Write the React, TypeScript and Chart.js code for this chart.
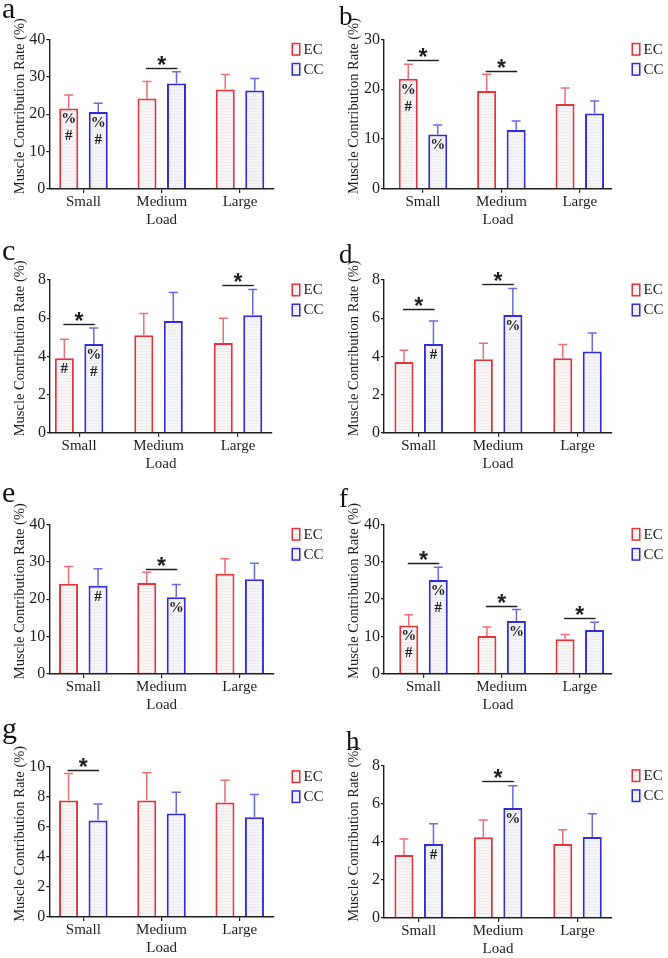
import React, { useEffect, useRef } from 'react';
import { Chart, registerables } from 'chart.js';

Chart.register(...registerables);

// ---- data ----
const LOADS = ['Small', 'Medium', 'Large'];
const SERIES = ['EC', 'CC'];
const Y_TITLE = 'Muscle Contribution Rate (%)';
const X_TITLE = 'Load';

// a
const A_EC = [21.5, 24.2, 26.6];
const A_EC_SD = [3.6, 4.5, 4.0];
const A_CC = [20.6, 28.2, 26.3];
const A_CC_SD = [2.3, 3.1, 3.2];
const A_TICKS = [0, 10, 20, 30, 40];
const A_SIG = [[1, 32.2]];
const A_MARKS = [[0, 0, '%#'], [1, 0, '%#']];

// b
const B_EC = [22.1, 19.6, 17.0];
const B_EC_SD = [2.9, 3.4, 3.2];
const B_CC = [10.9, 11.8, 15.1];
const B_CC_SD = [1.9, 1.8, 2.5];
const B_TICKS = [0, 10, 20, 30];
const B_SIG = [[0, 25.8], [1, 23.7]];
const B_MARKS = [[0, 0, '%#'], [1, 0, '%']];

// c
const C_EC = [3.9, 5.1, 4.7];
const C_EC_SD = [1.0, 1.15, 1.3];
const C_CC = [4.65, 5.85, 6.15];
const C_CC_SD = [0.83, 1.5, 1.35];
const C_TICKS = [0, 2, 4, 6, 8];
const C_SIG = [[0, 5.7], [2, 7.75]];
const C_MARKS = [[0, 0, '#'], [1, 0, '%#']];

// d
const D_EC = [3.7, 3.85, 3.9];
const D_EC_SD = [0.62, 0.83, 0.72];
const D_CC = [4.65, 6.17, 4.25];
const D_CC_SD = [1.2, 1.38, 0.97];
const D_TICKS = [0, 2, 4, 6, 8];
const D_SIG = [[0, 6.48], [1, 7.77]];
const D_MARKS = [[1, 0, '#'], [1, 1, '%']];

// e
const E_EC = [24.1, 24.3, 26.8];
const E_EC_SD = [4.6, 2.9, 4.0];
const E_CC = [23.6, 20.5, 25.3];
const E_CC_SD = [4.5, 3.4, 4.3];
const E_TICKS = [0, 10, 20, 30, 40];
const E_SIG = [[1, 28.1]];
const E_MARKS = [[1, 0, '#'], [1, 1, '%']];

// f
const F_EC = [12.9, 10.1, 9.2];
const F_EC_SD = [2.9, 2.4, 1.3];
const F_CC = [25.1, 14.1, 11.7];
const F_CC_SD = [3.4, 3.1, 2.1];
const F_TICKS = [0, 10, 20, 30, 40];
const F_SIG = [[0, 29.7], [1, 18.1], [2, 14.8]];
const F_MARKS = [[0, 0, '%#'], [1, 0, '%#'], [1, 1, '%']];

// g
const G_EC = [7.75, 7.75, 7.62];
const G_EC_SD = [1.8, 1.85, 1.48];
const G_CC = [6.42, 6.88, 6.63];
const G_CC_SD = [1.1, 1.42, 1.52];
const G_TICKS = [0, 2, 4, 6, 8, 10];
const G_SIG = [[0, 9.8]];
const G_MARKS: any[] = [];

// h
const H_EC = [3.31, 4.24, 3.89];
const H_EC_SD = [0.84, 0.91, 0.74];
const H_CC = [3.89, 5.78, 4.25];
const H_CC_SD = [1.06, 1.17, 1.23];
const H_TICKS = [0, 2, 4, 6, 8];
const H_SIG = [[1, 7.18]];
const H_MARKS = [[1, 0, '#'], [1, 1, '%']];

const PANELS = [
  { letter: 'a', ec: A_EC, ecSd: A_EC_SD, cc: A_CC, ccSd: A_CC_SD, ticks: A_TICKS, sig: A_SIG, marks: A_MARKS },
  { letter: 'b', ec: B_EC, ecSd: B_EC_SD, cc: B_CC, ccSd: B_CC_SD, ticks: B_TICKS, sig: B_SIG, marks: B_MARKS },
  { letter: 'c', ec: C_EC, ecSd: C_EC_SD, cc: C_CC, ccSd: C_CC_SD, ticks: C_TICKS, sig: C_SIG, marks: C_MARKS },
  { letter: 'd', ec: D_EC, ecSd: D_EC_SD, cc: D_CC, ccSd: D_CC_SD, ticks: D_TICKS, sig: D_SIG, marks: D_MARKS },
  { letter: 'e', ec: E_EC, ecSd: E_EC_SD, cc: E_CC, ccSd: E_CC_SD, ticks: E_TICKS, sig: E_SIG, marks: E_MARKS },
  { letter: 'f', ec: F_EC, ecSd: F_EC_SD, cc: F_CC, ccSd: F_CC_SD, ticks: F_TICKS, sig: F_SIG, marks: F_MARKS },
  { letter: 'g', ec: G_EC, ecSd: G_EC_SD, cc: G_CC, ccSd: G_CC_SD, ticks: G_TICKS, sig: G_SIG, marks: G_MARKS },
  { letter: 'h', ec: H_EC, ecSd: H_EC_SD, cc: H_CC, ccSd: H_CC_SD, ticks: H_TICKS, sig: H_SIG, marks: H_MARKS },
];

// ---- layout (pixels inside each panel canvas) ----
const ROW_TOP = [0, 240, 480, 718];
const ROW_H = [240, 240, 238, 240];
const BOXES = [
  { L: 49.3, R: 274, T: 39.3, B: 189, first: 83.5, last: 240, lx: 2, ly: 18, ls: 30 },
  { L: 50, R: 278, T: 39.3, B: 188.7, first: 89, last: 245.8, lx: 5, ly: 25, ls: 27 },
  { L: 50, R: 272, T: 40, B: 192.7, first: 79.1, last: 238, lx: 2, ly: 20, ls: 30 },
  { L: 50, R: 278, T: 40, B: 192.7, first: 84.7, last: 243.5, lx: 5, ly: 23, ls: 27 },
  { L: 49.3, R: 274, T: 44.3, B: 194, first: 83.3, last: 239.7, lx: 2, ly: 22, ls: 30 },
  { L: 50, R: 278, T: 44.3, B: 193.7, first: 89.5, last: 245.8, lx: 5, ly: 27, ls: 27 },
  { L: 49.3, R: 274, T: 48.7, B: 199, first: 83.3, last: 239.7, lx: 2, ly: 20, ls: 30 },
  { L: 50, R: 278, T: 47.7, B: 200, first: 84.7, last: 243.5, lx: 12, ly: 32, ls: 27 },
];

const SERIF = '"Liberation Serif", "Times New Roman", serif';
const RED = '#e2343b';
const BLUE = '#2f2fd0';
const RED_ERR = '#ec6f73';
const BLUE_ERR = '#6a6ae0';
const INK = '#1e1e1e';

function stripes(ctx: CanvasRenderingContext2D, base: string, line: string) {
  const c = document.createElement('canvas');
  c.width = 4;
  c.height = 3;
  const g = c.getContext('2d')!;
  g.fillStyle = base;
  g.fillRect(0, 0, 4, 3);
  g.fillStyle = line;
  g.fillRect(0, 0, 4, 1);
  return ctx.createPattern(c, 'repeat')!;
}

function Panel({ index }: { index: number }) {
  const ref = useRef<HTMLCanvasElement>(null);
  const p = PANELS[index];
  const box = BOXES[index];
  const col = index % 2;
  const row = Math.floor(index / 2);
  const W = 334;
  const H = ROW_H[row];

  useEffect(() => {
    const canvas = ref.current!;
    const ctx = canvas.getContext('2d')!;
    const ecFill = stripes(ctx, '#f7f5f5', '#eeeaea');
    const ccFill = stripes(ctx, '#f5f5f7', '#ebebef');
    const spacing = (box.last - box.first) / 2;
    const xMin = -(box.first - box.L) / spacing;
    const xMax = 2 + (box.R - box.last) / spacing;
    const step = p.ticks[1] - p.ticks[0];
    const legendX = col === 0 ? 291.5 : 297.5;
    const sds = [p.ecSd, p.ccSd];
    const means = [p.ec, p.cc];
    const errColors = [RED_ERR, BLUE_ERR];
    const fills = [ecFill, ccFill];
    const strokes = [RED, BLUE];

    const decor = {
      id: 'decor',
      afterDatasetsDraw(chart: any) {
        const c = chart.ctx;
        const ys = chart.scales.y;
        c.save();
        // upper error bars
        for (let s = 0; s < 2; s++) {
          const meta = chart.getDatasetMeta(s);
          meta.data.forEach((el: any, i: number) => {
            const top = ys.getPixelForValue(means[s][i] + sds[s][i]);
            c.strokeStyle = errColors[s];
            c.lineWidth = 1.5;
            c.beginPath();
            c.moveTo(el.x, el.y);
            c.lineTo(el.x, top);
            c.moveTo(el.x - 4.5, top);
            c.lineTo(el.x + 4.5, top);
            c.stroke();
          });
        }
        // markers inside bars
        c.fillStyle = INK;
        c.font = `bold 15px ${SERIF}`;
        c.textAlign = 'center';
        c.textBaseline = 'middle';
        p.marks.forEach((m: any) => {
          const el = chart.getDatasetMeta(m[0]).data[m[1]];
          const chars = String(m[2]).split('');
          chars.forEach((ch: string, k: number) => {
            c.fillText(ch, el.x, el.y + 11 + 17 * k);
          });
        });
        // significance brackets
        p.sig.forEach((sg: any) => {
          const a = chart.getDatasetMeta(0).data[sg[0]];
          const b = chart.getDatasetMeta(1).data[sg[0]];
          const y = Math.round(ys.getPixelForValue(sg[1])) + 0.5;
          c.strokeStyle = INK;
          c.lineWidth = 1.4;
          c.beginPath();
          c.moveTo(a.x - 1, y);
          c.lineTo(b.x + 1, y);
          c.stroke();
          c.fillStyle = INK;
          c.font = 'bold 23px "Liberation Sans", Arial, sans-serif';
          c.textAlign = 'center';
          c.textBaseline = 'alphabetic';
          c.fillText('*', (a.x + b.x) / 2, y + 4);
        });
        c.restore();
      },
      afterDraw(chart: any) {
        const c = chart.ctx;
        const area = chart.chartArea;
        c.save();
        // panel letter
        c.fillStyle = '#111';
        c.font = `${box.ls}px ${SERIF}`;
        c.textAlign = 'left';
        c.textBaseline = 'alphabetic';
        c.fillText(p.letter, box.lx, box.ly);
        // y axis title
        c.save();
        c.translate(20, (area.top + area.bottom) / 2 - 8);
        c.rotate(-Math.PI / 2);
        c.font = `14.5px ${SERIF}`;
        c.textAlign = 'center';
        c.textBaseline = 'middle';
        c.fillStyle = INK;
        c.fillText(Y_TITLE, 0, 0);
        c.restore();
        // legend
        SERIES.forEach((name, s) => {
          const cy = area.top + 10 + 20 * s;
          c.fillStyle = fills[s];
          c.fillRect(legendX, cy - 6.5, 9, 13);
          c.strokeStyle = strokes[s];
          c.lineWidth = 1.5;
          c.strokeRect(legendX + 0.75, cy - 5.75, 7.5, 11.5);
          c.fillStyle = INK;
          c.font = `15px ${SERIF}`;
          c.textAlign = 'left';
          c.textBaseline = 'middle';
          c.fillText(name, legendX + 12, cy + 0.5);
        });
        c.restore();
      },
    };

    const chart = new Chart(canvas, {
      type: 'bar',
      data: {
        datasets: [0, 1].map((s) => ({
          label: SERIES[s],
          data: means[s].map((v: number, i: number) => ({ x: i, y: v })),
          backgroundColor: fills[s],
          borderColor: strokes[s],
          borderWidth: 2,
          borderSkipped: 'start',
          categoryPercentage: 59 / spacing,
          barPercentage: 0.645,
        })),
      },
      options: {
        responsive: false,
        animation: false,
        events: [],
        devicePixelRatio: 1,
        layout: {
          padding: { left: 0, top: box.T, right: W - box.R, bottom: H - box.B - 40 },
        },
        plugins: { legend: { display: false }, tooltip: { enabled: false } },
        scales: {
          x: {
            type: 'linear',
            min: xMin,
            max: xMax,
            offset: false,
            afterBuildTicks: (scale: any) => {
              scale.ticks = LOADS.map((_, i) => ({ value: i }));
            },
            afterFit: (scale: any) => {
              scale.height = 40;
            },
            ticks: {
              autoSkip: false,
              maxRotation: 0,
              padding: 0,
              color: INK,
              font: { family: SERIF, size: 15 },
              callback: (v: any) => LOADS[v] ?? '',
            },
            grid: { display: true, drawOnChartArea: false, drawTicks: true, tickLength: 4, color: INK, lineWidth: 1.2, offset: false },
            border: { display: true, color: INK, width: 1.4, z: 1 },
            title: { display: true, text: X_TITLE, color: INK, font: { family: SERIF, size: 15 }, padding: { top: 0, bottom: 0 } },
          },
          y: {
            min: p.ticks[0],
            max: p.ticks[p.ticks.length - 1],
            afterBuildTicks: (scale: any) => {
              scale.ticks = p.ticks.map((v: number) => ({ value: v }));
            },
            afterFit: (scale: any) => {
              scale.width = box.L;
            },
            ticks: {
              stepSize: step,
              padding: 1,
              color: INK,
              font: { family: SERIF, size: 16 },
            },
            grid: { display: true, drawOnChartArea: false, drawTicks: true, tickLength: 3, color: INK, lineWidth: 1.2 },
            border: { display: true, color: INK, width: 1.4, z: 1 },
          },
        },
      } as any,
      plugins: [decor],
    });
    return () => chart.destroy();
  }, []);

  return (
    <canvas
      ref={ref}
      width={W}
      height={H}
      style={{ position: 'absolute', left: col * 334, top: ROW_TOP[row] }}
    />
  );
}

export default function App() {
  return (
    <div style={{ position: 'absolute', left: 0, top: 0, width: 668, height: 958, background: '#fff' }}>
      {PANELS.map((_, i) => (
        <Panel key={i} index={i} />
      ))}
    </div>
  );
}
